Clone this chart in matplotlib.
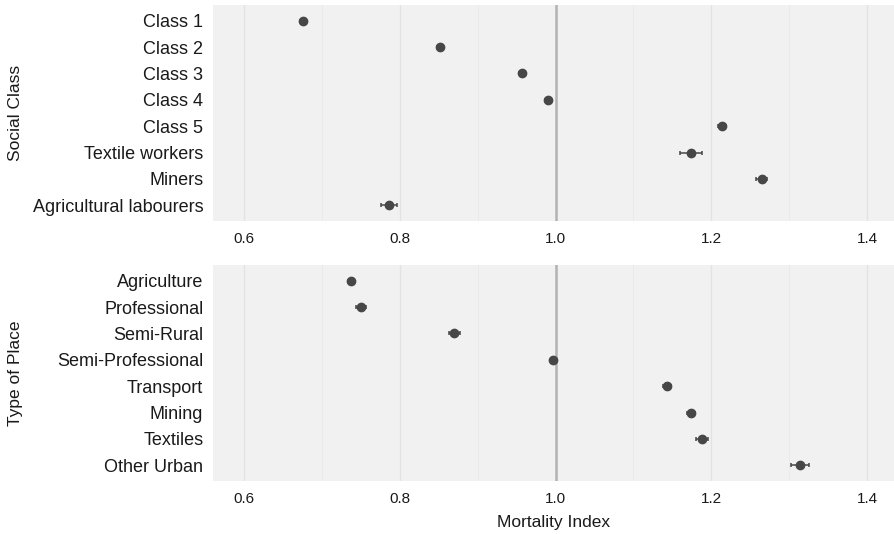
import matplotlib
matplotlib.use("Agg")
import matplotlib.pyplot as plt
from matplotlib.ticker import MultipleLocator

plt.rcParams['font.family'] = ['Liberation Sans', 'DejaVu Sans']

# Social class panel
class_labels = ["Class 1", "Class 2", "Class 3", "Class 4", "Class 5",
                "Textile workers", "Miners", "Agricultural labourers"]
class_values = [0.676, 0.852, 0.957, 0.990, 1.214, 1.174, 1.265, 0.786]
class_err = [0.004, 0.004, 0.004, 0.004, 0.005, 0.014, 0.007, 0.010]

# Type of place panel
place_labels = ["Agriculture", "Professional", "Semi-Rural", "Semi-Professional",
                "Transport", "Mining", "Textiles", "Other Urban"]
place_values = [0.737, 0.750, 0.870, 0.997, 1.143, 1.174, 1.188, 1.314]
place_err = [0.004, 0.006, 0.007, 0.003, 0.005, 0.005, 0.008, 0.011]

x_ticks = [0.6, 0.8, 1.0, 1.2, 1.4]

fig = plt.figure(figsize=(8.95, 5.34), dpi=100)
ax1 = fig.add_axes([0.238, 0.586, 0.762, 0.405])
ax2 = fig.add_axes([0.238, 0.099, 0.762, 0.405])

panels = [
    (ax1, class_labels, class_values, class_err),
    (ax2, place_labels, place_values, place_err),
]

for ax, labels, vals, errs in panels:
    ax.set_facecolor("#f1f1f1")
    for s in ax.spines.values():
        s.set_visible(False)
    ax.set_xlim(0.56, 1.436)
    ax.set_ylim(len(labels) - 0.4, -0.6)
    ax.set_xticks(x_ticks)
    ax.set_xticklabels([f"{t:.1f}" for t in x_ticks])
    ax.xaxis.set_minor_locator(MultipleLocator(0.1))
    ax.grid(True, which="major", axis="x", color="#e3e3e3", lw=1.0)
    ax.grid(True, which="minor", axis="x", color="#e9e9e9", lw=0.6)
    ax.set_axisbelow(True)
    ax.axvline(1.0, color="#b3b3b3", lw=1.8, zorder=1)
    ypos = list(range(len(labels)))
    ax.errorbar(vals, ypos, xerr=errs, fmt="o", color="#474747", ms=6,
                ecolor="#474747", elinewidth=1.1, capsize=1.5, capthick=1.1, zorder=3)
    ax.set_yticks(ypos)
    ax.set_yticklabels(labels)
    ax.tick_params(axis="both", which="both", length=0, colors="#1a1a1a")
    ax.tick_params(axis="y", labelsize=13, pad=7)
    ax.tick_params(axis="x", labelsize=11, pad=8)

ax2.set_xlabel("Mortality Index", fontsize=12.5, color="#1a1a1a", labelpad=6)
fig.text(0.017, (0.586 + 0.991) / 2, "Social Class", rotation=90, va="center",
         ha="center", fontsize=12.5, color="#1a1a1a")
fig.text(0.017, (0.099 + 0.504) / 2, "Type of Place", rotation=90, va="center",
         ha="center", fontsize=12.5, color="#1a1a1a")

fig.savefig("out.png", dpi=100, facecolor="white")
